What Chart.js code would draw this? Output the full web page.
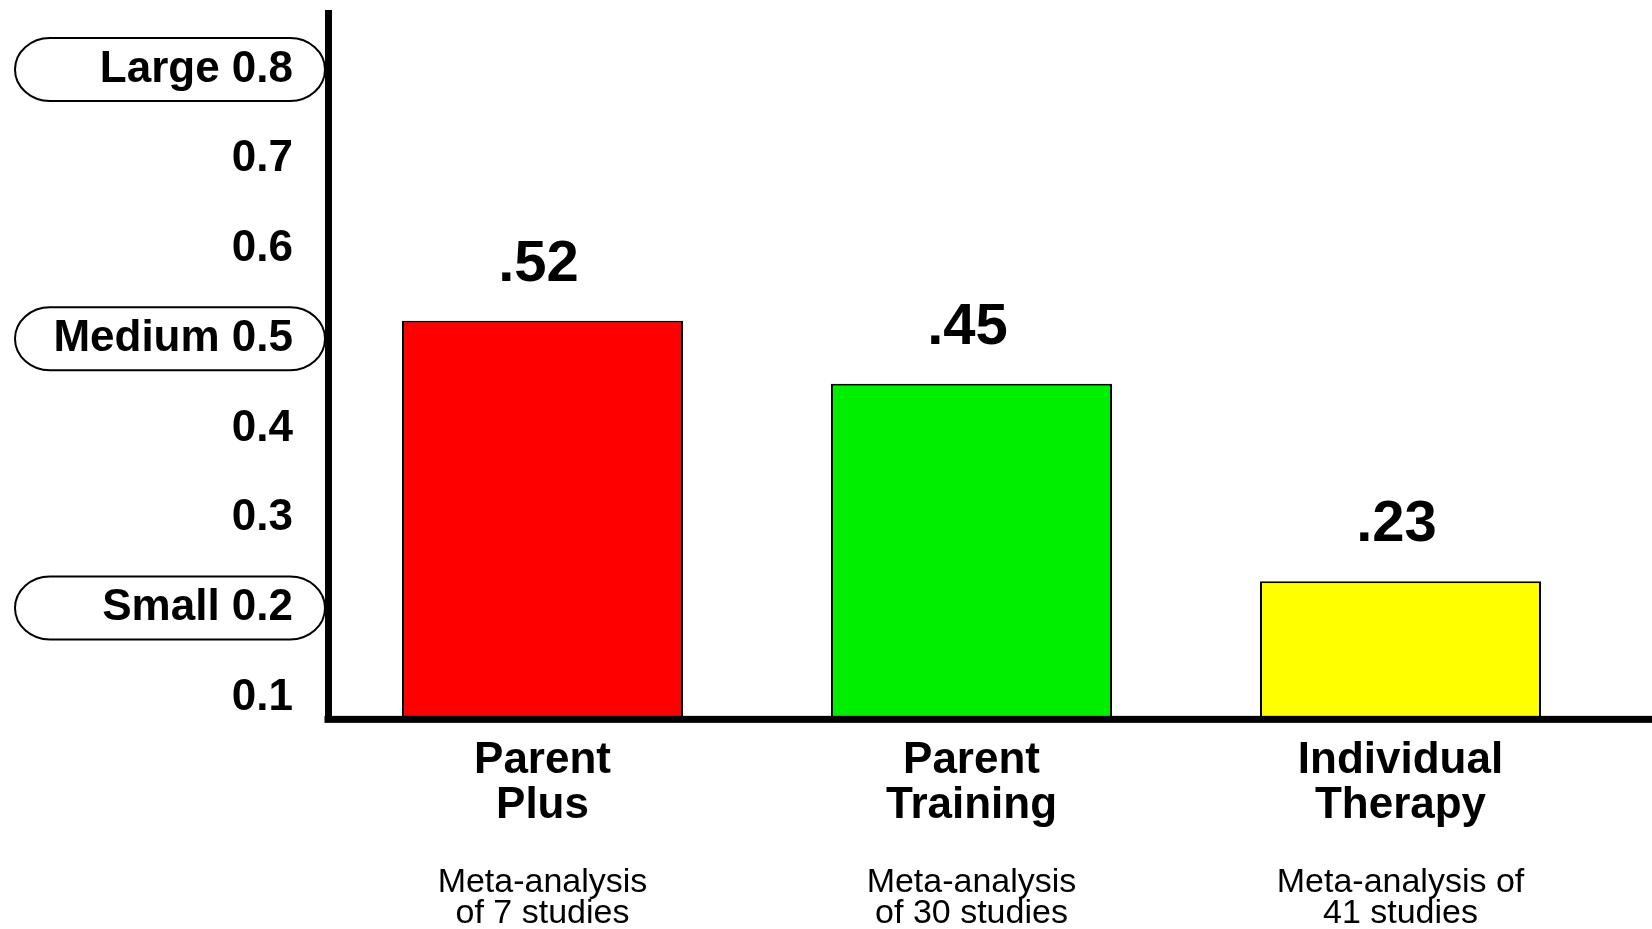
<!DOCTYPE html>
<html>
<head>
<meta charset="utf-8">
<title>Effect sizes</title>
<script src="https://cdn.jsdelivr.net/npm/chart.js@4/dist/chart.umd.min.js"></script>
<style>
  html, body { margin: 0; padding: 0; background: #fff; }
  #wrap { width: 1652px; height: 929px; position: relative; }
</style>
</head>
<body>
<div id="wrap"><canvas id="effect-chart"></canvas></div>
<script>
// data
const programmes = [['Parent', 'Plus'], ['Parent', 'Training'], ['Individual', 'Therapy']]
const studyNotes = [['Meta-analysis', 'of 7 studies'], ['Meta-analysis', 'of 30 studies'], ['Meta-analysis of', '41 studies']]
const effectSizes = [0.52, 0.45, 0.23]
const barColours = ['#ff0000', '#00ee00', '#ffff00']

const yTicks = [0.1, 0.2, 0.3, 0.4, 0.5, 0.6, 0.7, 0.8]
const sizeNames = ['', 'Small', '', '', 'Medium', '', '', 'Large']

const ctx = document.querySelector('#effect-chart')
const fontFamily = '"Liberation Sans", Arial, Helvetica, sans-serif'

// pills round the named tick labels (Small / Medium / Large)
const tickPills = {
  id: 'tickPills',
  afterDraw(chart) {
    const y = chart.scales.y
    const c = chart.ctx
    const left = 15, right = 325, ry = 31.5, rx = 35
    c.save()
    c.strokeStyle = '#000'
    c.lineWidth = 2
    yTicks.forEach((v, i) => {
      if (!sizeNames[i]) return
      const cy = y.getPixelForValue(v)
      c.beginPath()
      c.moveTo(left + rx, cy - ry)
      c.lineTo(right - rx, cy - ry)
      c.ellipse(right - rx, cy, rx, ry, 0, -Math.PI / 2, Math.PI / 2)
      c.lineTo(left + rx, cy + ry)
      c.ellipse(left + rx, cy, rx, ry, 0, Math.PI / 2, Math.PI * 1.5)
      c.closePath()
      c.stroke()
    })
    c.restore()
  }
}

// x axis line runs to the right edge, plus the value above each bar
const axisAndValues = {
  id: 'axisAndValues',
  afterDatasetsDraw(chart) {
    const c = chart.ctx
    const area = chart.chartArea
    c.save()
    c.fillStyle = '#000'
    c.fillRect(area.left - 3.5, area.bottom - 3.5, chart.width - area.left + 3.5, 7)

    c.font = 'bold 58px ' + fontFamily
    c.textAlign = 'center'
    c.textBaseline = 'alphabetic'
    chart.getDatasetMeta(0).data.forEach((bar, i) => {
      const txt = effectSizes[i].toFixed(2).replace(/^0/, '')
      c.fillText(txt, bar.x - 4, bar.y - 40)
    })
    c.restore()
  }
}

new Chart(ctx, {
  type: 'bar',
  data: {
    labels: programmes,
    datasets: [{
      data: effectSizes,
      backgroundColor: barColours,
      borderColor: '#000',
      borderWidth: 2,
      barPercentage: 0.655,
      categoryPercentage: 1,
      clip: 0
    }]
  },
  options: {
    responsive: true,
    maintainAspectRatio: false,
    animation: false,
    layout: { padding: { top: 13, right: 37, bottom: 0, left: 0 } },
    plugins: {
      legend: { display: false },
      tooltip: { enabled: false }
    },
    scales: {
      x: {
        type: 'category',
        offset: true,
        grid: { display: false, drawTicks: false },
        border: { display: false },
        ticks: {
          color: '#000',
          padding: 19,
          maxRotation: 0,
          autoSkip: false,
          font: { family: fontFamily, size: 44, weight: 'bold', lineHeight: 1.02 }
        }
      },
      x2: {
        type: 'category',
        position: 'bottom',
        weight: 1,
        labels: studyNotes,
        offset: true,
        grid: { display: false, drawTicks: false },
        border: { display: false },
        ticks: {
          color: '#000',
          padding: 20,
          maxRotation: 0,
          autoSkip: false,
          font: { family: fontFamily, size: 34, weight: 'normal', lineHeight: 0.91 }
        },
        afterFit(scale) {
          scale.height -= 20
        }
      },
      y: {
        min: 0.076,
        max: 0.863,
        grid: { display: false, drawTicks: false },
        border: { display: true, width: 7, color: '#000' },
        ticks: {
          color: '#000',
          padding: 35,
          font: { family: fontFamily, size: 44, weight: 'bold' },
          callback: (value, index) => {
            const name = sizeNames[index]
            return name ? name + ' ' + value.toFixed(1) : value.toFixed(1)
          }
        },
        afterBuildTicks(scale) {
          scale.ticks = yTicks.map(v => ({ value: v }))
        },
        afterFit(scale) {
          scale.width = 328
          scale.paddingTop = 0
          scale.paddingBottom = 0
        }
      }
    }
  },
  plugins: [tickPills, axisAndValues]
})
</script>
</body>
</html>
